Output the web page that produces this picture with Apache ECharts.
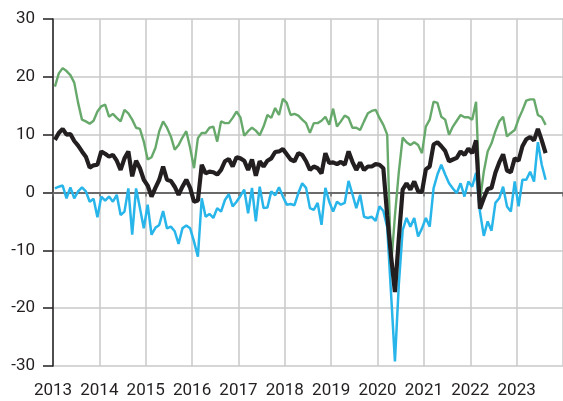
<!DOCTYPE html>
<html>
<head>
<meta charset="utf-8">
<script src="https://cdn.jsdelivr.net/npm/echarts@6/dist/echarts.min.js"></script>
<style>
  html, body { margin: 0; padding: 0; background: #fff; }
  #chart { width: 563px; height: 401px; }
</style>
</head>
<body>
<div id="chart"></div>
<script>
// monthly values, Jan 2013 .. Aug 2023
var startYear = 2013;
var yearTicks = [2013, 2014, 2015, 2016, 2017, 2018, 2019, 2020, 2021, 2022, 2023];

var greenVals = [
  18.3, 20.6, 21.5, 21.0, 20.3, 19.0, 15.5, 12.6, 12.3, 11.9, 12.4, 14.0,
  14.9, 15.2, 13.1, 13.6, 12.9, 12.3, 14.3, 13.7, 12.6, 11.2, 11.0, 8.8,
  5.7, 6.1, 7.7, 10.6, 12.3, 11.2, 9.7, 7.4, 8.2, 9.5, 10.6, 7.7,
  4.2, 9.4, 10.3, 10.3, 11.2, 11.4, 8.8, 12.3, 12.0, 12.0, 12.9, 14.0,
  13.0, 9.8, 10.6, 11.2, 10.7, 9.9, 11.4, 13.4, 12.9, 14.6, 13.4, 16.2,
  15.5, 13.4, 13.6, 13.3, 12.6, 12.0, 10.3, 12.0, 12.0, 12.4, 13.1, 11.7,
  14.5, 11.4, 12.3, 13.3, 12.9, 11.2, 11.2, 10.8, 12.3, 13.7, 14.1, 14.3,
  12.9, 11.7, 10.0, -12.8, -4.0, 3.5, 9.5, 8.7, 8.2, 8.7, 8.2, 6.8,
  11.4, 12.6, 15.7, 15.5, 13.1, 12.6, 10.0, 11.4, 12.4, 13.4, 13.0, 13.0,
  12.6, 15.7, -1.5, 3.6, 7.1, 8.5, 10.6, 12.3, 13.1, 9.7, 10.3, 10.8,
  12.7, 14.2, 15.9, 16.1, 16.1, 13.4, 13.0, 11.7
];

var blackVals = [
  9.1, 10.3, 11.0, 10.0, 10.1, 8.9, 8.1, 7.1, 6.2, 4.3, 4.7, 4.8,
  7.1, 6.7, 6.2, 6.5, 5.5, 3.9, 5.9, 7.1, 2.8, 5.5, 4.2, 2.2,
  1.2, -0.7, 0.8, 2.2, 4.5, 2.2, 2.0, 1.0, -0.4, 1.0, 2.2, 0.8,
  -1.6, -1.4, 4.8, 3.3, 3.6, 3.5, 3.1, 3.9, 5.4, 5.8, 4.5, 6.1,
  5.9, 5.5, 3.9, 5.7, 2.9, 5.4, 4.5, 5.5, 5.9, 7.0, 7.1, 7.5,
  6.6, 5.7, 5.4, 6.8, 6.5, 5.4, 3.9, 4.5, 4.2, 3.3, 6.8, 5.1,
  5.2, 4.9, 5.3, 4.8, 7.1, 5.3, 3.9, 5.2, 3.9, 4.5, 4.5, 4.9,
  4.8, 4.2, -4.0, -11.0, -17.2, -8.0, 0.5, 1.6, 0.5, 1.9, 0.2, 0.1,
  4.0, 4.5, 8.3, 8.7, 8.0, 7.2, 5.4, 5.7, 6.0, 7.1, 6.5, 7.6,
  6.8, 9.0, -2.8, -1.0, 0.6, 0.8, 3.4, 5.2, 6.6, 3.8, 3.5, 5.9,
  5.5, 8.0, 9.2, 9.6, 9.0, 11.0, 9.0, 6.8
];

var blueVals = [
  0.7, 1.0, 1.2, -1.0, 0.9, -1.0, 0.2, 0.9, 0.2, -1.6, -1.1, -4.3,
  -0.7, -1.4, -0.7, -1.6, -0.4, -3.9, -3.3, 0.7, -7.3, 0.7, -2.7, -6.2,
  -2.1, -7.3, -6.1, -5.6, -3.2, -6.2, -5.9, -6.7, -8.9, -6.2, -5.7, -6.2,
  -8.5, -11.1, -1.0, -4.2, -3.7, -4.4, -2.7, -3.3, -1.3, -0.3, -2.4, -1.6,
  -0.6, 0.5, -3.6, 0.8, -5.0, 1.0, -2.7, -2.6, 0.2, -0.5, 0.9, -0.7,
  -2.1, -2.0, -2.2, -0.1, 1.6, 0.8, -2.7, -3.0, -1.8, -5.6, 0.8, -1.6,
  -3.3, -1.6, -2.1, -1.8, 2.0, -0.3, -2.7, -0.4, -4.2, -4.4, -4.2, -4.9,
  -2.4, -3.2, -6.0, -17.5, -29.2, -16.0, -6.5, -4.4, -5.9, -4.4, -7.6, -6.2,
  -4.4, -5.9, 0.7, 3.1, 4.8, 3.1, 1.6, 0.7, -0.1, 1.6, -0.7, 1.9,
  1.0, 3.4, -3.3, -7.5, -5.0, -6.6, -1.8, -1.0, 1.0, -2.4, -3.3, 1.9,
  -2.4, 2.2, 2.2, 3.6, 1.9, 8.7, 4.8, 2.2
];

// month i sits in the middle of its month
function toPoints(vals) {
  return vals.map(function (v, i) { return [startYear + (i + 0.5) / 12, v]; });
}

var myChart = echarts.init(document.getElementById('chart'));
var labelFont = { color: '#231f20', fontSize: 17, fontFamily: 'Roboto, "Liberation Sans", sans-serif' };

var option = {
  animation: false,
  grid: { left: 53, right: -1, top: 19, bottom: 35 },
  xAxis: [
    {
      type: 'value',
      min: yearTicks[0],
      max: yearTicks[yearTicks.length - 1] + 1,
      interval: 1,
      axisLine: { show: false, onZero: false },
      axisTick: { show: false },
      axisLabel: Object.assign({ margin: 16, showMaxLabel: false, formatter: function (v) { return String(v); } }, labelFont),
      splitLine: { show: true, lineStyle: { color: '#c8c8c8', width: 1.5 } }
    },
    {
      type: 'value',
      min: yearTicks[0],
      max: yearTicks[yearTicks.length - 1] + 1,
      interval: 1,
      position: 'bottom',
      axisLine: { show: true, onZero: true, lineStyle: { color: '#6b6b6b', width: 2 } },
      axisTick: { show: true, length: 4, lineStyle: { color: '#6b6b6b', width: 1.5 } },
      axisLabel: { show: false },
      splitLine: { show: false }
    }
  ],
  yAxis: {
    type: 'value',
    min: -30,
    max: 30,
    interval: 10,
    axisLine: { show: true, lineStyle: { color: '#231f20', width: 1.5 } },
    axisTick: { show: true, length: 10, lineStyle: { color: '#231f20', width: 1.5 } },
    axisLabel: Object.assign({ margin: 18 }, labelFont),
    splitLine: { show: true, lineStyle: { color: '#c8c8c8', width: 1.5 } }
  },
  series: [
    {
      name: 'blue',
      type: 'line',
      data: toPoints(blueVals),
      showSymbol: false,
      lineStyle: { color: '#27b5ea', width: 2.5 },
      z: 3
    },
    {
      name: 'green',
      type: 'line',
      data: toPoints(greenVals),
      showSymbol: false,
      lineStyle: { color: '#67a96b', width: 2.4 },
      z: 4
    },
    {
      name: 'black',
      type: 'line',
      data: toPoints(blackVals),
      showSymbol: false,
      lineStyle: { color: '#231f20', width: 4.2 },
      z: 5
    }
  ]
};
myChart.setOption(option);
</script>
</body>
</html>
